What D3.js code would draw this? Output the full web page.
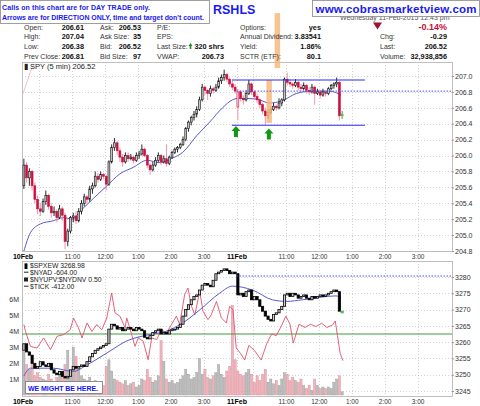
<!DOCTYPE html>
<html><head><meta charset="utf-8">
<script src="https://cdn.jsdelivr.net/npm/d3@7"></script>
<style>body{margin:0;background:#fff;} svg{display:block;font-family:"Liberation Sans",Arial,sans-serif;}</style>
</head><body><svg id="c" width="480" height="406"></svg>
<script>
// ---------- DATA ----------
const spyOpen = [205.62,205.88,205.72,205.80,205.62,205.45,205.33,205.30,205.42,205.50,205.36,205.28,205.30,205.22,205.33,205.25,204.92,205.05,205.22,205.24,205.18,205.30,205.40,205.48,205.45,205.58,205.62,205.74,205.70,205.76,205.74,205.64,205.92,206.10,206.16,206.06,205.98,205.92,206.00,205.96,205.98,205.94,206.00,206.02,206.08,206.00,205.88,205.82,205.88,205.94,206.00,205.92,205.96,205.90,205.98,206.04,206.08,206.10,206.14,206.20,206.34,206.42,206.48,206.52,206.58,206.70,206.86,206.82,206.78,206.84,206.82,206.86,206.94,206.98,207.02,206.96,206.90,206.86,
 206.61,206.80,206.72,206.70,206.78,206.90,206.80,206.74,206.70,206.64,206.56,206.50,206.54,206.58,206.62,206.60,206.66,206.70,206.96,206.92,206.90,206.88,206.92,206.86,206.84,206.88,206.82,206.80,206.86,206.78,206.80,206.76,206.80,206.78,206.84,206.88,206.90,206.92,206.50];
const spyHigh = [205.96,205.92,205.84,205.82,205.66,205.50,205.40,205.46,205.56,205.52,205.40,205.36,205.32,205.38,205.36,205.28,205.08,205.24,205.28,205.30,205.34,205.44,205.52,205.50,205.62,205.66,205.80,205.78,205.80,205.78,205.76,205.94,206.14,206.22,206.18,206.10,206.02,206.04,206.04,206.02,206.00,206.04,206.06,206.14,206.10,206.02,205.90,205.92,205.98,206.04,206.02,206.00,206.14,206.00,206.06,206.10,206.12,206.16,206.24,206.36,206.44,206.50,206.56,206.62,206.74,206.90,206.88,206.84,206.88,206.86,206.90,206.98,207.02,207.08,207.04,206.98,206.94,206.90,
 206.84,206.82,206.76,206.82,206.95,206.92,206.82,206.78,206.72,206.66,206.60,206.58,206.62,206.66,206.64,206.72,206.72,206.98,207.04,206.96,206.92,206.96,206.94,206.90,206.92,206.90,206.86,206.90,206.88,206.84,206.82,206.84,206.82,206.86,206.90,206.92,206.98,206.94,206.56];
const spyLow = [205.58,205.66,205.62,205.56,205.40,205.26,205.24,205.28,205.38,205.32,205.22,205.24,205.16,205.20,205.18,204.82,204.86,205.02,205.16,205.14,205.16,205.26,205.36,205.38,205.42,205.52,205.60,205.66,205.68,205.70,205.56,205.62,205.90,206.06,206.00,205.92,205.86,205.90,205.92,205.94,205.90,205.92,205.96,206.00,205.98,205.84,205.76,205.80,205.86,205.92,205.88,205.90,205.86,205.88,205.96,206.02,206.04,206.08,206.12,206.18,206.30,206.38,206.44,206.48,206.56,206.68,206.76,206.70,206.74,206.78,206.80,206.84,206.90,206.94,206.92,206.86,206.82,206.78,
 206.44,206.68,206.64,206.68,206.76,206.76,206.70,206.66,206.60,206.52,206.38,206.46,206.52,206.56,206.56,206.58,206.62,206.68,206.88,206.86,206.84,206.86,206.82,206.80,206.82,206.78,206.76,206.78,206.64,206.76,206.72,206.74,206.74,206.76,206.82,206.84,206.86,206.44,206.46];
const spyClose = [205.88,205.72,205.80,205.62,205.45,205.33,205.30,205.42,205.50,205.36,205.28,205.30,205.22,205.33,205.25,204.92,205.05,205.22,205.24,205.18,205.30,205.40,205.48,205.45,205.58,205.62,205.74,205.70,205.76,205.74,205.64,205.92,206.10,206.16,206.06,205.98,205.92,206.00,205.96,205.98,205.94,206.00,206.02,206.08,206.00,205.88,205.82,205.88,205.94,206.00,205.92,205.96,205.90,205.98,206.04,206.08,206.10,206.14,206.20,206.34,206.42,206.48,206.52,206.58,206.70,206.86,206.82,206.78,206.84,206.82,206.86,206.94,206.98,207.02,206.96,206.90,206.86,206.81,
 206.80,206.72,206.70,206.78,206.90,206.80,206.74,206.70,206.64,206.56,206.50,206.54,206.58,206.62,206.60,206.66,206.70,206.96,206.92,206.90,206.88,206.92,206.86,206.84,206.88,206.82,206.80,206.86,206.78,206.80,206.76,206.80,206.78,206.84,206.88,206.90,206.92,206.50,206.52];
const spyMaIdx = [0,2.4,6,10.7,14.4,17.6,20.5,25.3,30.3,35,39.8,44.9,49.6,54.3,57.9,63,67.7,72.4,76,78.5,84.8,89.5,94.2,99.3,105.1,111.3,115.6];
const spyMaVal = [204.8,205.03,205.14,205.18,205.22,205.2,205.3,205.46,205.62,205.77,205.85,205.94,205.91,205.97,206.04,206.25,206.42,206.6,206.7,206.72,206.71,206.66,206.69,206.78,206.81,206.81,206.76];
const pinkIdx = [-0.5,0.5,1.5,2.5,3.5];
const pinkVal = [206.76,206.86,206.96,207.06,207.14];

const spxOpen = [3257.5,3259.5,3257.0,3256.0,3253.5,3252.0,3252.5,3254.0,3253.0,3252.5,3253.5,3251.5,3250.5,3250.0,3251.0,3249.5,3249.0,3249.5,3251.5,3252.5,3252.0,3252.5,3253.0,3252.5,3254.0,3255.5,3256.5,3257.5,3258.0,3258.5,3259.0,3259.5,3264.0,3265.5,3265.0,3264.0,3264.5,3263.5,3264.0,3264.5,3264.0,3263.5,3264.5,3264.0,3263.5,3261.5,3261.0,3262.0,3263.0,3263.5,3264.0,3262.5,3263.0,3262.5,3263.5,3264.0,3264.0,3264.5,3265.5,3268.0,3270.0,3271.5,3273.0,3274.0,3274.5,3276.0,3277.5,3278.0,3277.5,3277.0,3279.0,3281.0,3281.5,3282.0,3282.5,3282.0,3281.0,3281.5,
 3281.0,3274.5,3275.0,3274.0,3275.5,3276.0,3273.0,3274.0,3273.0,3271.0,3269.5,3268.0,3267.0,3266.5,3268.5,3269.0,3270.0,3271.0,3274.5,3275.0,3274.0,3275.0,3274.5,3273.5,3274.0,3274.5,3273.5,3273.0,3274.0,3273.5,3274.0,3274.5,3274.0,3274.5,3275.0,3275.5,3276.0,3275.5,3269.5];
const spxClose = [3259.5,3257.0,3256.0,3253.5,3252.0,3252.5,3254.0,3253.0,3252.5,3253.5,3251.5,3250.5,3250.0,3251.0,3249.5,3249.0,3249.5,3251.5,3252.5,3252.0,3252.5,3253.0,3252.5,3254.0,3255.5,3256.5,3257.5,3258.0,3258.5,3259.0,3259.5,3264.0,3265.5,3265.0,3264.0,3264.5,3263.5,3264.0,3264.5,3264.0,3263.5,3264.5,3264.0,3263.5,3261.5,3261.0,3262.0,3263.0,3263.5,3264.0,3262.5,3263.0,3262.5,3263.5,3264.0,3264.0,3264.5,3265.5,3268.0,3270.0,3271.5,3273.0,3274.0,3274.5,3276.0,3277.5,3278.0,3277.5,3277.0,3279.0,3281.0,3281.5,3282.0,3282.5,3282.0,3281.0,3281.5,3281.0,
 3274.5,3275.0,3274.0,3275.5,3276.0,3273.0,3274.0,3273.0,3271.0,3269.5,3268.0,3267.0,3266.5,3268.5,3269.0,3270.0,3271.0,3274.5,3275.0,3274.0,3275.0,3274.5,3273.5,3274.0,3274.5,3273.5,3273.0,3274.0,3273.5,3274.0,3274.5,3274.0,3274.5,3275.0,3275.5,3276.0,3275.5,3269.5,3269.0];
const spxMaIdx = [0,2.4,10.7,18,23,30.3,37.6,44.9,52.1,57.9,64.1,71.3,76,83.3,90.6,95.7,101.5,113.8,115.6];
const spxMaVal = [3249.6,3252,3252,3251,3253,3256.7,3260.4,3262.2,3263.4,3265.9,3269.9,3275,3277.2,3276,3273,3272.5,3273,3274.2,3273.5];

const tickIdx = [0,0.6,2.4,4.8,7.2,9.7,12.1,14.5,16.9,18.1,19.9,21.2,23,24.8,26.6,28.4,30.2,32,33.2,35,36.9,37.5,39.3,40.5,41.7,43.5,45.3,46.6,48.4,50.2,52,53.8,55.6,56.8,58.6,59.8,61.1,62.3,64.1,65.3,67.1,68.3,70.2,72,73.8,75,76.2,77.4,79,80.5,82,84,86.5,88.5,90.3,92,93.9,95.5,97,98.2,100.3,102.5,104.5,106.5,108.5,110.5,112.5,113.5,114.3,115.3,116.3];
const tickVal = [3265.4,3263.3,3258.7,3258.2,3261.3,3257.7,3261.8,3262.3,3263.8,3267.4,3264.4,3261.3,3265.9,3263.3,3265.4,3263.8,3267.4,3275.1,3269,3268,3264.4,3267.4,3262.3,3258.7,3261.3,3260.3,3254.6,3261.3,3260.8,3263.8,3262.8,3265.4,3268,3265.4,3274.6,3276.6,3271,3268.4,3275.6,3269.5,3266.9,3268.4,3272.5,3267.4,3265.9,3271,3270,3258.2,3256.5,3254.5,3259,3257.5,3254.5,3259.5,3262.5,3262,3265,3268,3265.5,3259.7,3265.5,3264.5,3265.5,3264.8,3265.8,3264.5,3265.3,3266.5,3262,3256.5,3254.3];

const volume = [2.7,1.9,1.6,2.0,1.2,1.4,1.1,1.0,0.9,1.3,1.0,0.8,1.1,1.5,1.2,1.9,2.8,1.3,3.0,2.4,1.6,1.2,1.0,0.9,1.1,0.8,0.9,0.7,0.8,0.6,1.8,2.2,1.5,1.0,0.9,0.8,0.7,0.9,0.6,0.7,0.8,0.5,0.6,1.0,0.9,1.6,1.1,0.8,0.9,1.2,3.4,2.1,1.0,0.8,0.9,0.7,0.8,1.0,1.2,1.6,1.3,1.0,1.1,1.4,2.3,1.3,1.6,1.1,1.0,1.2,1.4,1.9,1.3,1.1,1.5,1.8,5.6,2.2,
 1.5,1.3,1.2,1.4,1.6,1.3,0.8,1.2,0.9,1.3,1.6,0.8,1.0,0.7,0.9,0.6,1.0,1.4,1.3,0.9,1.1,0.9,0.8,1.0,0.6,0.4,0.6,0.3,1.0,0.6,0.4,0.5,0.4,0.5,0.4,0.8,1.0,1.2,0.2];

const timeIdx = [0,6,18,30,42,54,66,78,84,96,108,120,132,144];
const timeLab = ["10Feb","","11:00","12:00","1:00","2:00","3:00","11Feb","","11:00","12:00","1:00","2:00","3:00"];
const priceTicks = [204.8,205.0,205.2,205.4,205.6,205.8,206.0,206.2,206.4,206.6,206.8,207.0];
const spxTicks = [3245,3250,3255,3260,3265,3270,3275,3280];
const volTicks = [1,2,3,4,5,6];

// annotations (values)
const supportLines = [206.95, 206.38];   // blue horizontal lines
const supportFrom = 76.3, supportTo = 124.8;
const prevCloseSpy = 206.81, prevCloseSpx = 3280.3;
const greenLevel = 3262.5;
const arrowIdx = [77.8, 89.8], arrowTop = [206.37, 206.34];
const orangeBands = [{from:88.9,to:90.9,hi:206.95,lo:206.41},{from:91.9,to:93.9,hi:207.79,lo:207.10}];

// ---------- CHART ----------
const svg = d3.select("#c");
const L = 22, R = 452;
const x = d3.scaleLinear().domain([0,156]).range([22.5,450.5]);
const cx = i => x(i+0.5);
const yP = d3.scaleLinear().domain([204.8,207.0]).range([251,76]);
const yR = d3.scaleLinear().domain([3245,3280]).range([391,277]);
const yV = d3.scaleLinear().domain([0,6]).range([395,299]);
const T1 = 62, B1 = 251, T2 = 261, B2 = 396;

svg.append("rect").attr("width",480).attr("height",406).attr("fill","#fff");

const defs = svg.append("defs");
defs.append("clipPath").attr("id","cp1").append("rect").attr("x",L).attr("y",T1).attr("width",R-L).attr("height",B1-T1);
defs.append("clipPath").attr("id","cp2").append("rect").attr("x",L).attr("y",T2).attr("width",R-L).attr("height",B2-T2);

function grid(top, bottom, yScale, ticks){
  const g = svg.append("g");
  g.selectAll("line.h").data(ticks).join("line")
    .attr("x1",L).attr("x2",R).attr("y1",d=>Math.round(yScale(d))+0.5).attr("y2",d=>Math.round(yScale(d))+0.5)
    .attr("stroke","#c8c8c8").attr("stroke-width",0.8).attr("stroke-dasharray","1,2");
  g.selectAll("line.v").data(timeIdx.slice(1)).join("line")
    .attr("x1",d=>Math.round(x(d))+0.5).attr("x2",d=>Math.round(x(d))+0.5).attr("y1",top).attr("y2",bottom)
    .attr("stroke","#c8c8c8").attr("stroke-width",0.8).attr("stroke-dasharray","1,2");
  g.append("rect").attr("x",L+0.5).attr("y",top+0.5).attr("width",R-L).attr("height",bottom-top)
    .attr("fill","none").attr("stroke","#b0b0b0").attr("stroke-width",0.8);
}
grid(T1,B1,yP,priceTicks);
grid(T2,B2,yR,spxTicks);

function rightAxis(scale, ticks, fmt){
  const g = svg.append("g").attr("transform",`translate(${R},0)`)
    .call(d3.axisRight(scale).tickValues(ticks).tickFormat(fmt).tickSize(2).tickPadding(1));
  g.select(".domain").remove();
  g.selectAll("line").attr("stroke","#999");
  g.selectAll("text").attr("font-size",7).attr("fill","#333").attr("font-family","Liberation Sans,Arial");
}
rightAxis(yP, priceTicks, d3.format(".1f"));
rightAxis(yR, spxTicks, d3.format("d"));
{
  const g = svg.append("g").attr("transform",`translate(${L},0)`)
    .call(d3.axisLeft(yV).tickValues(volTicks).tickFormat(d=>d+"M").tickSize(0).tickPadding(3));
  g.select(".domain").remove();
  g.selectAll("text").attr("font-size",7).attr("fill","#333").attr("font-family","Liberation Sans,Arial");
}

function timeAxis(yPos){
  const g = svg.append("g").attr("transform",`translate(0,${yPos})`)
    .call(d3.axisBottom(x).tickValues(timeIdx).tickFormat((d,i)=>timeLab[i]).tickSize(0).tickPadding(2));
  g.select(".domain").remove();
  g.selectAll("text").attr("font-family","Liberation Sans,Arial")
    .attr("font-size",(d,i)=>timeLab[i].includes("Feb")?7:6.5)
    .attr("font-weight",(d,i)=>timeLab[i].includes("Feb")?"bold":"normal")
    .attr("fill",(d,i)=>timeLab[i].includes("Feb")?"#000":"#333");
}
timeAxis(B1+1);
timeAxis(B2+1);

// ---------- top panel ----------
const p1 = svg.append("g").attr("clip-path","url(#cp1)");
svg.append("g").selectAll("rect").data(orangeBands).join("rect")
  .attr("x",d=>x(d.from)).attr("width",d=>x(d.to)-x(d.from))
  .attr("y",d=>yP(d.hi)).attr("height",d=>yP(d.lo)-yP(d.hi))
  .attr("fill","#f6b97c").attr("opacity",0.85);

p1.append("path").datum(pinkIdx.map((d,i)=>[d,pinkVal[i]]))
  .attr("d",d3.line().x(d=>cx(d[0])).y(d=>yP(d[1])).curve(d3.curveMonotoneX))
  .attr("fill","none").attr("stroke","#f0b8c4").attr("stroke-width",0.9);

p1.append("path").datum(spyMaIdx.map((d,i)=>[d,spyMaVal[i]]))
  .attr("d",d3.line().x(d=>cx(d[0])).y(d=>yP(d[1])).curve(d3.curveMonotoneX))
  .attr("fill","none").attr("stroke","#5a5ad0").attr("stroke-width",1);

function candles(g, O,H,Lo,C, ys, opts){
  O.forEach((o,i)=>{
    const c=C[i], prev = i? C[i-1] : o;
    const red = c < prev;
    const last = i===O.length-1;
    const col = last? "#2a9a2a" : red? opts.red : opts.black;
    const up = c >= o;
    if(H){
      g.append("line").attr("x1",cx(i)).attr("x2",cx(i)).attr("y1",ys(H[i])).attr("y2",ys(Lo[i]))
        .attr("stroke", last? col : red? opts.redWick : opts.black).attr("stroke-width",0.9);
    }
    const y0 = ys(Math.max(o,c)), y1 = ys(Math.min(o,c));
    g.append("rect").attr("x",cx(i)-opts.w/2).attr("width",opts.w)
      .attr("y",y0).attr("height",Math.max(y1-y0,opts.minH))
      .attr("fill", last? "#dff5df" : up ? (red? opts.redHollow : opts.hollow) : col)
      .attr("stroke",col).attr("stroke-width",opts.sw);
  });
}
candles(p1, spyOpen, spyHigh, spyLow, spyClose, yP,
  {red:"#cc1040", redWick:"#e98aa0", black:"#111", hollow:"#c4c4c4", redHollow:"#f8d8e0", w:1.9, sw:0.6, minH:0.8});

svg.append("g").selectAll("line").data(supportLines).join("line")
  .attr("x1",x(supportFrom)).attr("x2",x(supportTo)).attr("y1",d=>yP(d)).attr("y2",d=>yP(d))
  .attr("stroke","#2b2bff").attr("stroke-width",1.1);
svg.append("line").attr("x1",x(78)).attr("x2",R).attr("y1",yP(prevCloseSpy)).attr("y2",yP(prevCloseSpy))
  .attr("stroke","#4d4dff").attr("stroke-width",1).attr("stroke-dasharray","1.5,1.5");

arrowIdx.forEach((a,i)=>{
  const ax = x(a), ay = yP(arrowTop[i]);
  svg.append("path").attr("d",`M${ax},${ay} L${ax+4.5},${ay+5} L${ax+2},${ay+5} L${ax+2},${ay+11} L${ax-2},${ay+11} L${ax-2},${ay+5} L${ax-4.5},${ay+5} Z`)
    .attr("fill","#119911");
});

svg.append("text").attr("x",24).attr("y",69).attr("font-size",7.5).attr("fill","#222")
  .text("\u25AE SPY (5 min) 206.52");

// ---------- bottom panel ----------
const p2 = svg.append("g").attr("clip-path","url(#cp2)");
p2.selectAll("rect.v").data(volume).join("rect")
  .attr("x",(d,i)=>cx(i)-1.1).attr("width",2.2)
  .attr("y",d=>yV(d)).attr("height",d=>yV(0)-yV(d))
  .attr("fill",(d,i)=> (i && spyClose[i]<spyClose[i-1]) ? "#eeb4bc" : "#bdbdbd")
  .attr("stroke",(d,i)=> (i && spyClose[i]<spyClose[i-1]) ? "#d98894" : "#999").attr("stroke-width",0.4);

p2.append("line").attr("x1",L).attr("x2",R).attr("y1",yR(greenLevel)).attr("y2",yR(greenLevel))
  .attr("stroke","#3c9a3c").attr("stroke-width",1.2);

p2.append("path").datum(tickIdx.map((d,i)=>[d,tickVal[i]]))
  .attr("d",d3.line().x(d=>cx(d[0])).y(d=>yR(d[1])))
  .attr("fill","none").attr("stroke","#e0506a").attr("stroke-width",0.9);

p2.append("path").datum(spxMaIdx.map((d,i)=>[d,spxMaVal[i]]))
  .attr("d",d3.line().x(d=>cx(d[0])).y(d=>yR(d[1])).curve(d3.curveMonotoneX))
  .attr("fill","none").attr("stroke","#5a5ad0").attr("stroke-width",1);

candles(p2, spxOpen, null, null, spxClose, yR,
  {red:"#000", redWick:"#000", black:"#000", hollow:"#cfcfcf", redHollow:"#cfcfcf", w:2.2, sw:0.8, minH:1});

svg.append("line").attr("x1",x(78)).attr("x2",R).attr("y1",yR(prevCloseSpx)).attr("y2",yR(prevCloseSpx))
  .attr("stroke","#4d4dff").attr("stroke-width",1).attr("stroke-dasharray","1.5,1.5");

const legend = ["$SPXEW 3268.98","$NYAD -604.00","$NYUPV:$NYDNV 0.50","$TICK -412.00"];
const lg = svg.append("g");
legend.forEach((t,i)=>{
  const by = 267.5 + i*7;
  lg.append("text").attr("x",30).attr("y",by).attr("font-size",6.8).attr("fill","#222").text(t);
  if(i===0) lg.append("text").attr("x",24).attr("y",by).attr("font-size",6.8).attr("font-weight","bold").text("\u25AE");
  else if(i===2) lg.append("rect").attr("x",24).attr("y",by-4).attr("width",4).attr("height",4).attr("fill","#222");
  else lg.append("line").attr("x1",24).attr("x2",28.5).attr("y1",by-2.3).attr("y2",by-2.3).attr("stroke","#222").attr("stroke-width",1);
});

svg.append("rect").attr("x",25.5).attr("y",381.5).attr("width",77).attr("height",12).attr("fill","#fff").attr("stroke","#777").attr("stroke-width",0.8);
svg.append("text").attr("x",28).attr("y",390.5).attr("font-size",7).attr("font-weight","bold").attr("fill","#1515ee")
  .attr("textLength",70).text("WE MIGHT BE HERE.");

// ---------- header ----------
const hd = svg.append("g");
hd.append("text").attr("x",340).attr("y",19.5).attr("font-size",7).attr("fill","#555").text("Wednesday 11-Feb-2015 12:43 pm");
const rowsY = [29.5,39.2,48.9,58.6];
function lab(xp,r,t){ hd.append("text").attr("x",xp).attr("y",rowsY[r]).attr("font-size",7).attr("fill","#333").text(t); }
function val(xp,r,t,c,fs){ hd.append("text").attr("x",xp).attr("y",rowsY[r]).attr("text-anchor","end").attr("font-size",fs||7.3).attr("font-weight","bold").attr("fill",c||"#111").text(t); }
[["Open:","206.61"],["High:","207.04"],["Low:","206.38"],["Prev Close:","206.81"]].forEach((d,r)=>{lab(24,r,d[0]);val(84,r,d[1]);});
[["Ask:","206.53"],["Ask Size:","35"],["Bid:","206.52"],["Bid Size:","97"]].forEach((d,r)=>{lab(100,r,d[0]);val(141,r,d[1]);});
[["P/E:",""],["EPS:",""],["Last Size:","320 shrs"],["VWAP:","206.73"]].forEach((d,r)=>{lab(157,r,d[0]);if(d[1])val(224,r,d[1]);});
hd.append("path").attr("d",`M190.5,${rowsY[2]-6} l2,3 h-1.2 v3 h-1.6 v-3 h-1.2 Z`).attr("fill","#1a8a1a");
[["Options:","yes"],["Annual Dividend:","3.83541"],["Yield:","1.86%"],["SCTR (ETF):","80.1"]].forEach((d,r)=>{lab(240,r,d[0]);val(321,r,d[1]);});
[["","-0.14%"],["Chg:","-0.29"],["Last:","206.52"],["Volume:","32,938,856"]].forEach((d,r)=>{ if(d[0])lab(380,r,d[0]); val(447,r,d[1], r===0?"#c0103a":"#111", r===0?9:7.3);});
hd.append("path").attr("d",`M373,${rowsY[0]-7} h9 l-4.5,7 Z`).attr("fill","#a01030");

hd.append("rect").attr("x",0.5).attr("y",0.5).attr("width",209).attr("height",23).attr("fill","#fff").attr("stroke","#888").attr("stroke-width",0.8);
hd.append("text").attr("x",2).attr("y",9.5).attr("font-size",7).attr("font-weight","bold").attr("fill","#1a1aee")
  .attr("textLength",148).text("Calls on this chart are for DAY TRADE only.");
hd.append("text").attr("x",2).attr("y",19.5).attr("font-size",7).attr("font-weight","bold").attr("fill","#1a1aee")
  .attr("textLength",202).text("Arrows are for DIRECTION ONLY, time and target don't count.");
hd.append("text").attr("x",213).attr("y",14).attr("font-size",12.5).attr("font-weight","bold").attr("fill","#1a1aee").text("RSHLS");
hd.append("rect").attr("x",312.5).attr("y",0.5).attr("width",167).attr("height",16).attr("fill","#fff").attr("stroke","#888").attr("stroke-width",0.8);
hd.append("text").attr("x",315.5).attr("y",13).attr("font-size",11.5).attr("font-weight","bold").attr("fill","#1a1aee")
  .attr("textLength",161).text("www.cobrasmarketview.com");
</script></body></html>
